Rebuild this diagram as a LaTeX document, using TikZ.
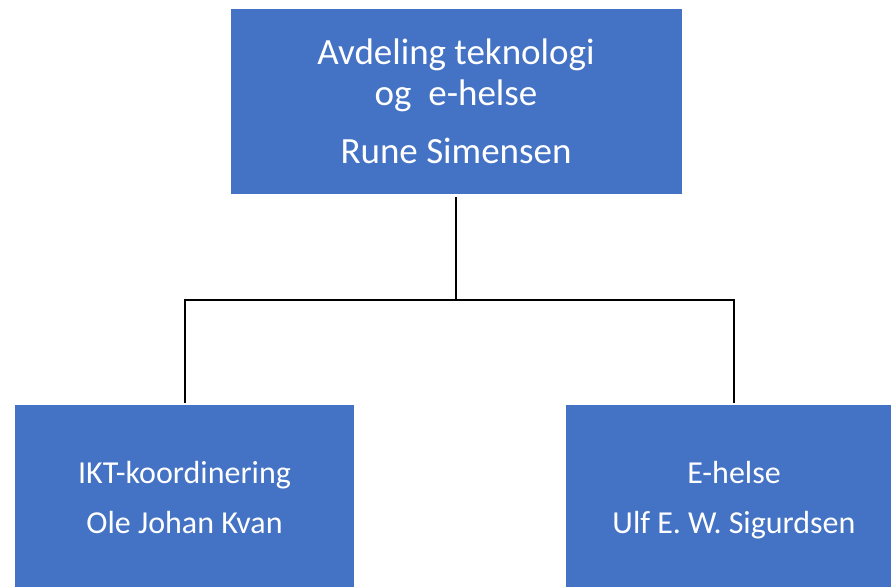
\documentclass[tikz,border=0pt]{standalone}
\usepackage{fontspec}
\setmainfont{Carlito}
\definecolor{boxblue}{HTML}{4472C4}
\tikzset{
  unit/.style = {draw = boxblue, fill = boxblue, text = white, align = center, inner sep = 0pt},
  link/.style = {line width = 2pt, black}
}
\begin{document}
\begin{tikzpicture}[x = 1pt, y = -1pt]
      \useasboundingbox (0, 0) rectangle (891, 586);
      \clip (0, 0) rectangle (891, 586);
      \node[unit, minimum width = 450pt, minimum height = 184pt, font = \fontsize{37}{41}\selectfont] (top) at (456, 101.5) {Avdeling teknologi\\og\ \ e-helse\\[17pt]Rune Simensen};
      \node[unit, minimum width = 338pt, minimum height = 184pt, text depth = 0pt, font = \fontsize{32}{50}\selectfont] (ikt) at (184.5, 497) {IKT-koordinering\\Ole Johan Kvan};
      \node[unit, minimum width = 336pt, minimum height = 184pt, text depth = 0pt, font = \fontsize{32}{50}\selectfont] (ehelse) at (734, 497) {E-helse\\Ulf E. W. Sigurdsen};
      \coordinate (split) at (456, 300);
      \draw[link, shorten < = 3pt] (top) -- (split);
      \draw[link, shorten < = 2pt, shorten > = 2pt] (ikt) |- (split) -| (ehelse);
    \end{tikzpicture}
\end{document}
